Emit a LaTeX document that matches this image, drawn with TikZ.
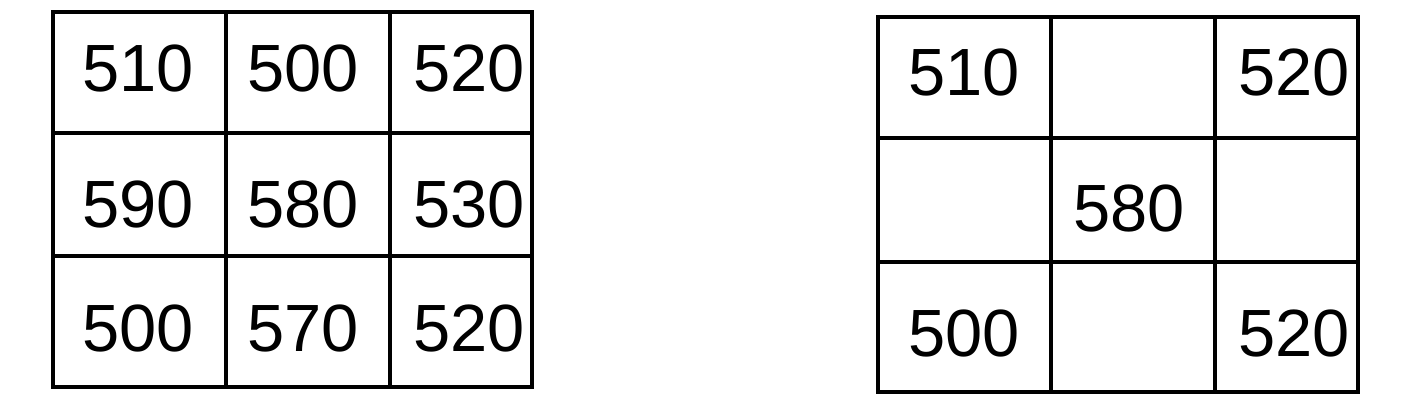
\documentclass[tikz,border=0pt]{standalone}
\usepackage{fontspec}
\setmainfont{Liberation Sans}
\tikzset{val/.style={font=\fontsize{19}{21}\selectfont, inner sep=0pt}}

\begin{document}
\begin{tikzpicture}[x=0.01cm,y=-0.01cm,line width=0.9pt]
    \useasboundingbox (0,0) rectangle (1416,414);
    % left grid, all nine values
    \draw (53,12) rectangle (532,387);
    \draw (226,12) -- (226,387);
    \draw (390,12) -- (390,387);
    \draw (53,133) -- (532,133);
    \draw (53,256) -- (532,256);
    \node[val] (la) at (138,68) {510};
    \node[val] (lb) at (303,68) {500};
    \node[val] (lc) at (469,68) {520};
    \node[val] (ld) at (138,204) {590};
    \node[val] (le) at (303,204) {580};
    \node[val] (lf) at (469,204) {530};
    \node[val] (lg) at (138,328) {500};
    \node[val] (lh) at (303,328) {570};
    \node[val] (li) at (469,328) {520};
    % right grid, corners and centre only
    \draw (878,17) rectangle (1358,392);
    \draw (1051,17) -- (1051,392);
    \draw (1215,17) -- (1215,392);
    \draw (878,138) -- (1358,138);
    \draw (878,262) -- (1358,262);
    \node[val] (ra) at (964,72) {510};
    \node[val] (rc) at (1294,72) {520};
    \node[val] (re) at (1129,208) {580};
    \node[val] (rg) at (964,333) {500};
    \node[val] (ri) at (1294,333) {520};
\end{tikzpicture}
\end{document}
